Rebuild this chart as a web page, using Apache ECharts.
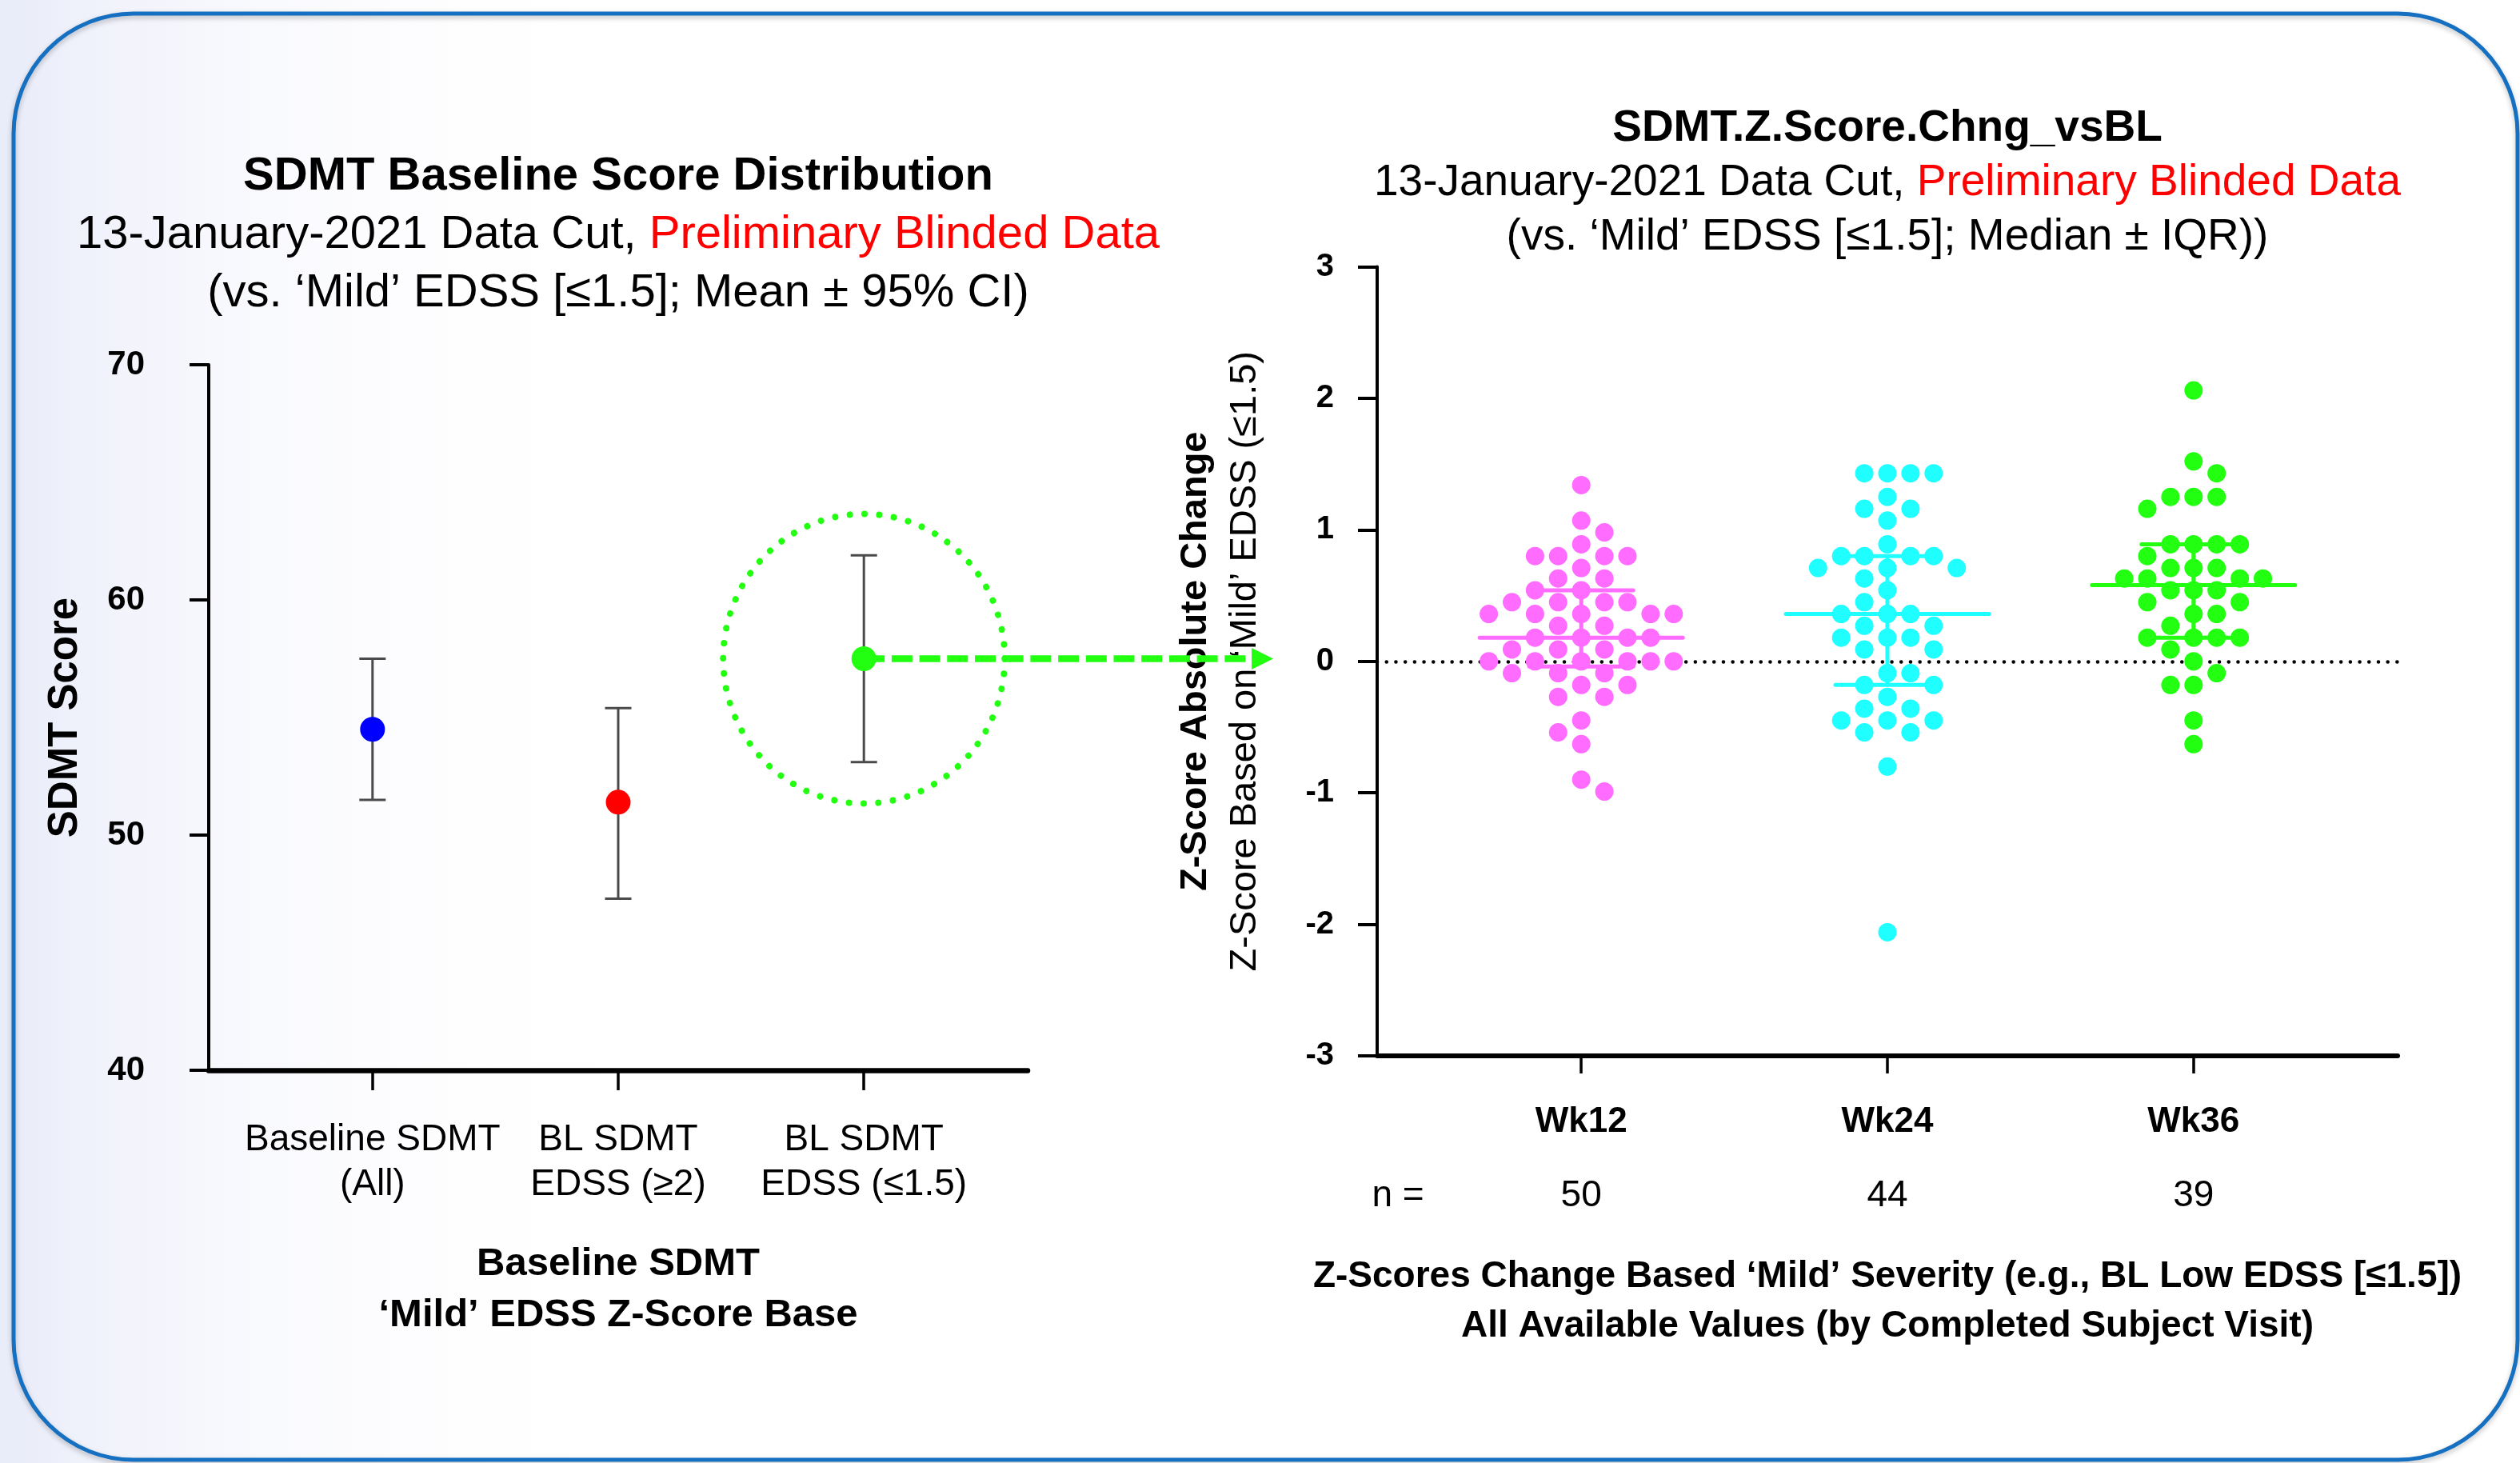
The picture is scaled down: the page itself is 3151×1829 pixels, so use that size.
<!DOCTYPE html>
<html>
<head>
<meta charset="utf-8">
<script src="https://cdn.jsdelivr.net/npm/echarts@6/dist/echarts.min.js"></script>
<style>
html,body{margin:0;padding:0;background:#ffffff;}
#main{width:3151px;height:1829px;}
</style>
</head>
<body>
<div id="main"></div>
<script>
// ---------------- DATA ----------------
const leftCategories = ['Baseline SDMT\n(All)', 'BL SDMT\nEDSS (\u22652)', 'BL SDMT\nEDSS (\u22641.5)'];
const leftMeans  = [54.5, 51.4, 57.5];
const leftCILow  = [51.5, 47.3, 53.1];
const leftCIHigh = [57.5, 55.4, 61.9];

const weeks   = ['Wk12', 'Wk24', 'Wk36'];
const nCounts = [50, 44, 39];
const wk12Values = [1.34, 1.07, 0.98, 0.89, 0.80, 0.80, 0.80, 0.80, 0.71, 0.63, 0.63, 0.54, 0.54,
  0.45, 0.45, 0.45, 0.45, 0.36, 0.36, 0.36, 0.36, 0.36, 0.27, 0.27, 0.18, 0.18, 0.18, 0.18,
  0.09, 0.09, 0.09, 0, 0, 0, 0, 0, 0, -0.09, -0.09, -0.09, -0.18, -0.18, -0.27, -0.27,
  -0.45, -0.54, -0.63, -0.90, -0.99];
const wk24Values = [1.43, 1.43, 1.43, 1.43, 1.25, 1.16, 1.16, 1.07, 0.89, 0.80, 0.80, 0.80, 0.80,
  0.71, 0.71, 0.71, 0.63, 0.54, 0.45, 0.36, 0.36, 0.36, 0.27, 0.27, 0.18, 0.18, 0.18,
  0.09, 0.09, -0.09, -0.09, -0.18, -0.18, -0.27, -0.36, -0.36, -0.45, -0.45, -0.45,
  -0.54, -0.54, -0.80, -2.06];
const wk36Values = [2.06, 1.52, 1.43, 1.25, 1.25, 1.25, 1.16, 0.89, 0.89, 0.89, 0.89, 0.80,
  0.71, 0.71, 0.71, 0.63, 0.63, 0.63, 0.63, 0.54, 0.54, 0.54, 0.45, 0.45, 0.36, 0.36, 0.27,
  0.18, 0.18, 0.18, 0.18, 0.09, 0, -0.09, -0.18, -0.18, -0.45, -0.63];
const medians = [0.18, 0.36, 0.58];
const q1s     = [-0.04, -0.18, 0.18];
const q3s     = [0.54, 0.80, 0.89];

const leftYTicks  = [40, 50, 60, 70];
const rightYTicks = [-3, -2, -1, 0, 1, 2, 3];

// ---------------- STYLE ----------------
const FONT = '"Liberation Sans", Arial, Helvetica, sans-serif';
const leftColors = ['#0000ff', '#ff0000', '#22ff11'];
const weekColors = ['#ff6cff', '#1fffff', '#22ff11'];
const CI_COLOR = '#4a4a4a';
const CI_CAP = 16.5, MED_HALF = 127, IQR_CAP = 65;
const COL = 28.9, MIN_D = 26.5;

const chart = echarts.init(document.getElementById('main'), null, {renderer: 'canvas', width: 3151, height: 1829});

function renderCI(params, api) {
  const x = api.value(0);
  const lo = api.coord([x, api.value(1)]);
  const hi = api.coord([x, api.value(2)]);
  const st = {stroke: CI_COLOR, lineWidth: 3, fill: null};
  return {type: 'group', children: [
    {type: 'line', shape: {x1: lo[0], y1: lo[1], x2: hi[0], y2: hi[1]}, style: st},
    {type: 'line', shape: {x1: lo[0] - CI_CAP, y1: lo[1], x2: lo[0] + CI_CAP, y2: lo[1]}, style: st},
    {type: 'line', shape: {x1: hi[0] - CI_CAP, y1: hi[1], x2: hi[0] + CI_CAP, y2: hi[1]}, style: st}
  ]};
}

function renderSummary(params, api) {
  const x = api.value(0);
  const pm = api.coord([x, api.value(1)]);
  const pl = api.coord([x, api.value(2)]);
  const ph = api.coord([x, api.value(3)]);
  const st = {stroke: weekColors[params.dataIndex], lineWidth: 5, lineCap: 'round', fill: null};
  return {type: 'group', children: [
    {type: 'line', shape: {x1: pm[0] - MED_HALF, y1: pm[1], x2: pm[0] + MED_HALF, y2: pm[1]}, style: st},
    {type: 'line', shape: {x1: pl[0], y1: pl[1], x2: ph[0], y2: ph[1]}, style: st},
    {type: 'line', shape: {x1: pl[0] - IQR_CAP, y1: pl[1], x2: pl[0] + IQR_CAP, y2: pl[1]}, style: st},
    {type: 'line', shape: {x1: ph[0] - IQR_CAP, y1: ph[1], x2: ph[0] + IQR_CAP, y2: ph[1]}, style: st}
  ]};
}

const titleRich = (size, lh) => ({
  b: {fontSize: size, fontWeight: 'bold', lineHeight: lh, color: '#000', fontFamily: FONT},
  n: {fontSize: size, fontWeight: 'normal', lineHeight: lh, color: '#000', fontFamily: FONT},
  r: {fontSize: size, fontWeight: 'normal', lineHeight: lh, color: '#ff0000', fontFamily: FONT}
});

const option = {
  animation: false,
  backgroundColor: '#ffffff',
  textStyle: {fontFamily: FONT, color: '#000'},
  graphic: [
    {type: 'rect', z: -10, silent: true, shape: {x: 0, y: 0, width: 1400, height: 1829},
      style: {fill: {type: 'linear', x: 0, y: 0, x2: 1, y2: 0, colorStops: [
        {offset: 0, color: 'rgba(214,220,244,0.55)'},
        {offset: 0.15, color: 'rgba(226,228,247,0.35)'},
        {offset: 0.35, color: 'rgba(238,240,251,0.15)'},
        {offset: 0.6, color: 'rgba(255,255,255,0)'}
      ]}}},
    {type: 'rect', z: 100, silent: true, shape: {x: 17, y: 17, width: 3131, height: 1808, r: 150},
      style: {fill: null, stroke: '#1670c2', lineWidth: 5, shadowBlur: 6, shadowColor: 'rgba(0,0,0,0.25)', shadowOffsetY: 3}}
  ],
  title: [
    {left: 773, top: 184.5, textAlign: 'center', padding: 0,
      text: '{b|SDMT Baseline Score Distribution}\n{n|13-January-2021 Data Cut, }{r|Preliminary Blinded Data}\n{n|(vs. \u2018Mild\u2019 EDSS [\u22641.5]; Mean \u00b1 95% CI)}',
      textStyle: {fontWeight: 'normal', rich: titleRich(58, 73)}},
    {left: 2360, top: 127, textAlign: 'center', padding: 0,
      text: '{b|SDMT.Z.Score.Chng_vsBL}\n{n|13-January-2021 Data Cut, }{r|Preliminary Blinded Data}\n{n|(vs. \u2018Mild\u2019 EDSS [\u22641.5]; Median \u00b1 IQR))}',
      textStyle: {fontWeight: 'normal', rich: titleRich(55, 68)}},
    {left: 1748, top: 1472, textAlign: 'center', padding: 0, text: 'n =',
      textStyle: {fontSize: 46, lineHeight: 46, fontWeight: 'normal', color: '#000', fontFamily: FONT}}
  ],
  grid: [
    {left: 261, top: 456, width: 1024, height: 882, containLabel: false, outerBoundsMode: 'none'},
    {left: 1722, top: 333.5, width: 1276, height: 986.5, containLabel: false, outerBoundsMode: 'none'}
  ],
  xAxis: [
    {gridIndex: 0, type: 'value', min: 1 / 3, max: 11 / 3, splitLine: {show: false},
      axisLine: {show: true, onZero: false, lineStyle: {color: '#000', width: 6.5}},
      axisTick: {show: true, customValues: [1, 2, 3], length: 25, lineStyle: {color: '#000', width: 3.5}},
      axisLabel: {show: true, customValues: [1, 2, 3], formatter: v => leftCategories[Math.round(v) - 1],
        margin: 59, fontSize: 46, lineHeight: 56, color: '#000', fontFamily: FONT},
      name: 'Baseline SDMT\n\u2018Mild\u2019 EDSS Z-Score Base', nameLocation: 'middle', nameGap: 210,
      nameTextStyle: {fontSize: 49, fontWeight: 'bold', lineHeight: 64, color: '#000', fontFamily: FONT}},
    {gridIndex: 1, type: 'value', min: 1 / 3, max: 11 / 3, splitLine: {show: false},
      axisLine: {show: true, onZero: false, lineStyle: {color: '#000', width: 6}},
      axisTick: {show: true, customValues: [1, 2, 3], length: 22, lineStyle: {color: '#000', width: 3.5}},
      axisLabel: {show: true, customValues: [1, 2, 3], margin: 37,
        formatter: v => '{w|' + weeks[Math.round(v) - 1] + '}\n{n|' + nCounts[Math.round(v) - 1] + '}',
        rich: {
          w: {fontSize: 44, fontWeight: 'bold', lineHeight: 92, color: '#000', fontFamily: FONT},
          n: {fontSize: 46, fontWeight: 'normal', lineHeight: 92, color: '#000', fontFamily: FONT}
        }},
      name: 'Z-Scores Change Based \u2018Mild\u2019 Severity (e.g., BL Low EDSS [\u22641.5])\nAll Available Values (by Completed Subject Visit)',
      nameLocation: 'middle', nameGap: 245,
      nameTextStyle: {fontSize: 46, fontWeight: 'bold', lineHeight: 62, color: '#000', fontFamily: FONT}}
  ],
  yAxis: [
    {gridIndex: 0, type: 'value', min: leftYTicks[0], max: leftYTicks[leftYTicks.length - 1], interval: 10,
      splitLine: {show: false},
      axisLine: {show: true, onZero: false, lineStyle: {color: '#000', width: 4}},
      axisTick: {show: true, length: 24, lineStyle: {color: '#000', width: 4}},
      axisLabel: {show: true, margin: 80, fontSize: 42, fontWeight: 'bold', color: '#000', fontFamily: FONT},
      name: 'SDMT Score', nameLocation: 'middle', nameGap: 154,
      nameTextStyle: {fontSize: 51, fontWeight: 'bold', lineHeight: 51, color: '#000', fontFamily: FONT}},
    {gridIndex: 1, type: 'value', min: rightYTicks[0], max: rightYTicks[rightYTicks.length - 1], interval: 1,
      splitLine: {show: false},
      axisLine: {show: true, onZero: false, lineStyle: {color: '#000', width: 4}},
      axisTick: {show: true, length: 24, lineStyle: {color: '#000', width: 4}},
      axisLabel: {show: true, margin: 54, fontSize: 40, fontWeight: 'bold', color: '#000', fontFamily: FONT},
      name: '{b|Z-Score Absolute Change}\n{n|Z-Score Based on \u2018Mild\u2019 EDSS (\u22641.5)}',
      nameLocation: 'middle', nameGap: 134,
      nameTextStyle: {rich: {
        b: {fontSize: 47, fontWeight: 'bold', lineHeight: 62, color: '#000', fontFamily: FONT},
        n: {fontSize: 47, fontWeight: 'normal', lineHeight: 62, color: '#000', fontFamily: FONT}
      }}}
  ],
  series: [
    {type: 'custom', name: 'CI', xAxisIndex: 0, yAxisIndex: 0, z: 4, silent: true,
      encode: {x: 0, y: [1, 2]}, renderItem: renderCI,
      data: leftCILow.map((lo, i) => [i + 1, lo, leftCIHigh[i]])},
    {type: 'scatter', name: 'Mean', xAxisIndex: 0, yAxisIndex: 0, z: 10, symbolSize: 31, silent: true,
      itemStyle: {opacity: 1},
      data: leftMeans.map((m, i) => ({value: [i + 1, m], itemStyle: {color: leftColors[i], opacity: 1}}))},
    {type: 'scatter', name: 'Highlight', xAxisIndex: 0, yAxisIndex: 0, z: 3, clip: false, silent: true,
      symbol: 'circle', symbolSize: [352, 362],
      itemStyle: {opacity: 1, color: 'rgba(0,0,0,0)', borderColor: '#22ff11', borderWidth: 8, borderType: [0.1, 18.6], borderCap: 'round'},
      data: [[3, leftMeans[2]]]},
    {type: 'line', name: 'Zero', xAxisIndex: 1, yAxisIndex: 1, z: 1, silent: true, data: [],
      markLine: {z: 1, silent: true, symbol: ['none', 'none'], label: {show: false},
        lineStyle: {color: '#000', width: 4.5, type: [0.1, 11.6], cap: 'round'},
        emphasis: {disabled: true}, data: [{yAxis: 0}]}},
    {type: 'scatter', name: 'Wk12', xAxisIndex: 1, yAxisIndex: 1, z: 3, symbolSize: 23, silent: true,
      itemStyle: {color: weekColors[0], opacity: 1}, data: []},
    {type: 'scatter', name: 'Wk24', xAxisIndex: 1, yAxisIndex: 1, z: 3, symbolSize: 23, silent: true,
      itemStyle: {color: weekColors[1], opacity: 1}, data: []},
    {type: 'scatter', name: 'Wk36', xAxisIndex: 1, yAxisIndex: 1, z: 3, symbolSize: 23, silent: true,
      itemStyle: {color: weekColors[2], opacity: 1}, data: []},
    {type: 'custom', name: 'MedianIQR', xAxisIndex: 1, yAxisIndex: 1, z: 5, silent: true,
      encode: {x: 0, y: [1, 2, 3]}, renderItem: renderSummary,
      data: medians.map((m, i) => [i + 1, m, q1s[i], q3s[i]])}
  ]
};

chart.setOption(option);

// beeswarm layout computed in pixel space via the chart's own scales
function layoutSwarm(values, cat) {
  const finder = {gridIndex: 1};
  const cx = chart.convertToPixel(finder, [cat, 0])[0];
  const items = values.map(v => ({v: v, py: chart.convertToPixel(finder, [cat, v])[1]}));
  items.sort((a, b) => b.v - a.v);
  const placed = [];
  let bal = 0;
  for (const it of items) {
    let chosen = null;
    for (let k = 0; chosen === null && k < 60; k++) {
      const cands = k === 0 ? [0] : (bal > 0 ? [-k, k] : [k, -k]);
      for (const c of cands) {
        const px = cx + c * COL;
        if (placed.every(p => Math.hypot(p.px - px, p.py - it.py) >= MIN_D)) {
          chosen = c; it.px = px; break;
        }
      }
    }
    bal += chosen;
    placed.push(it);
  }
  return placed.map(p => [chart.convertFromPixel(finder, [p.px, p.py])[0], p.v]);
}

const startPx = chart.convertToPixel({gridIndex: 0}, [3, leftMeans[2]]);
const rightAxisPx = chart.convertToPixel({gridIndex: 1}, [1 / 3, 0])[0];
const arrowEndX = rightAxisPx - 143.5;

chart.setOption({
  series: [
    {}, {},
    {markLine: {z: 6, silent: true, symbol: ['none', 'triangle'], symbolSize: 27,
      label: {show: false}, emphasis: {disabled: true},
      itemStyle: {color: '#22ff11', opacity: 1},
      lineStyle: {color: '#22ff11', width: 8.7, type: [26, 8.7], cap: 'butt', opacity: 1},
      data: [[{x: startPx[0], y: startPx[1]}, {x: arrowEndX, y: startPx[1]}]]}},
    {},
    {data: layoutSwarm(wk12Values, 1)},
    {data: layoutSwarm(wk24Values, 2)},
    {data: layoutSwarm(wk36Values, 3)},
    {}
  ]
});
</script>
</body>
</html>
